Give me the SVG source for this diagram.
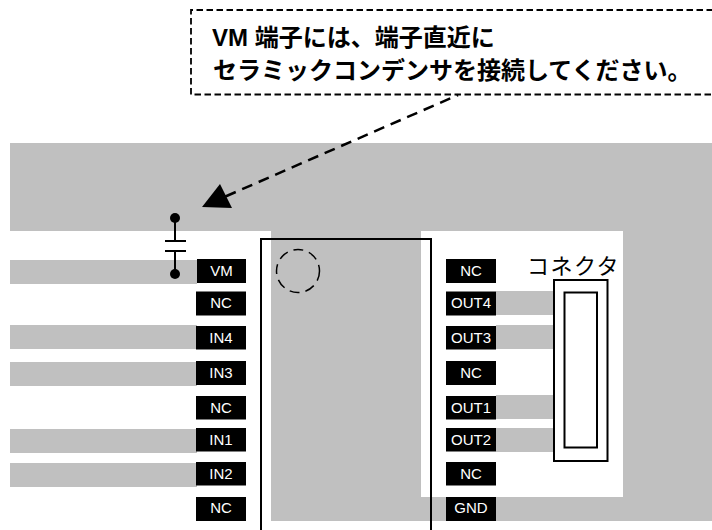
<svg xmlns="http://www.w3.org/2000/svg" width="712" height="530" viewBox="0 0 712 530">
<style>
.g{fill:#c0c0c0}
.pin rect{fill:#000}
.pin text{fill:#fff;font:15px "Liberation Sans",Arial,sans-serif;text-anchor:middle}
.ln{fill:none;stroke:#000;stroke-width:2}
.call{font:bold 24px "Liberation Sans","Noto Sans CJK JP",sans-serif;fill:#000}
</style>
<rect width="712" height="530" fill="#fff"/>
<g id="copper">
<path class="g" d="M10 143H712V521H271V231H10Z"/>
<rect x="421" y="231" width="202" height="266" fill="#fff"/>
<rect class="g" x="10" y="260" width="187" height="24"/>
<rect class="g" x="10" y="325" width="187" height="24"/>
<rect class="g" x="10" y="362" width="187" height="24"/>
<rect class="g" x="10" y="429" width="187" height="24"/>
<rect class="g" x="10" y="463" width="187" height="24"/>
<rect class="g" x="496" y="291" width="58" height="24"/>
<rect class="g" x="496" y="325" width="58" height="24"/>
<rect class="g" x="496" y="395" width="58" height="24"/>
<rect class="g" x="496" y="428" width="58" height="24"/>
</g>
<g id="ic"><path class="ln" d="M261 530V239H431V530"/><circle cx="298" cy="271" r="21.500" fill="none" stroke="#000" stroke-width="1.500" stroke-dasharray="10 6"/></g>
<g id="connector"><rect class="ln" x="554" y="280" width="53.500" height="181"/><rect class="ln" x="564.500" y="292.500" width="32.500" height="155"/>
<text x="527" y="274" font-family="'Noto Sans CJK JP',sans-serif" font-size="22" letter-spacing="1.500">コネクタ</text></g>
<g id="capacitor"><path class="ln" d="M175 218V241M165 241H186M165 251H186M175 251V274"/><circle cx="175" cy="218" r="5"/><circle cx="175" cy="274" r="5"/></g>
<g id="pin-VM" class="pin"><rect x="197" y="259" width="49" height="24"/><text x="221.500" y="276">VM</text></g>
<g id="pin-NC1" class="pin"><rect x="196" y="291.500" width="50" height="24"/><text x="221" y="308">NC</text></g>
<g id="pin-IN4" class="pin"><rect x="196" y="326" width="50" height="23.500"/><text x="221" y="343">IN4</text></g>
<g id="pin-IN3" class="pin"><rect x="196" y="361" width="50" height="24"/><text x="221" y="378">IN3</text></g>
<g id="pin-NC2" class="pin"><rect x="196" y="396" width="50" height="23.500"/><text x="221" y="413">NC</text></g>
<g id="pin-IN1" class="pin"><rect x="196" y="428" width="50" height="23.500"/><text x="221" y="445">IN1</text></g>
<g id="pin-IN2" class="pin"><rect x="196" y="462" width="50" height="23.500"/><text x="221" y="479">IN2</text></g>
<g id="pin-NC3" class="pin"><rect x="196" y="497" width="50" height="24"/><text x="221" y="513">NC</text></g>
<g id="pin-NC4" class="pin"><rect x="446" y="259" width="50" height="24"/><text x="471" y="276">NC</text></g>
<g id="pin-OUT4" class="pin"><rect x="446" y="291.500" width="50" height="24"/><text x="471" y="308">OUT4</text></g>
<g id="pin-OUT3" class="pin"><rect x="446" y="326" width="50" height="23.500"/><text x="471" y="343">OUT3</text></g>
<g id="pin-NC5" class="pin"><rect x="446" y="361" width="50" height="24"/><text x="471" y="378">NC</text></g>
<g id="pin-OUT1" class="pin"><rect x="446" y="396" width="50" height="23.500"/><text x="471" y="413">OUT1</text></g>
<g id="pin-OUT2" class="pin"><rect x="446" y="428" width="50" height="23.500"/><text x="471" y="445">OUT2</text></g>
<g id="pin-NC6" class="pin"><rect x="446" y="462" width="50" height="23.500"/><text x="471" y="479">NC</text></g>
<g id="pin-GND" class="pin"><rect x="446" y="497" width="50" height="24"/><text x="471" y="513">GND</text></g>
<g id="callout"><path d="M713 10H191V94.500H713" fill="none" stroke="#000" stroke-width="1.800" stroke-dasharray="6.500 3.500"/>
<text class="call" x="212" y="46">VM 端子には、端子直近に</text>
<text class="call" x="213" y="79">セラミックコンデンサを接続してください。</text></g>
<g id="connectors"><path d="M222 198L458 95" fill="none" stroke="#000" stroke-width="2.500" stroke-dasharray="15 7 11 7 11 7 11 7 11 7 11 7 11 7 11 7 11 7 11 7 11 7 11 7 11 7 11 7 11 7"/><path d="M202 207L220 184L232 208Z"/></g>
</svg>
